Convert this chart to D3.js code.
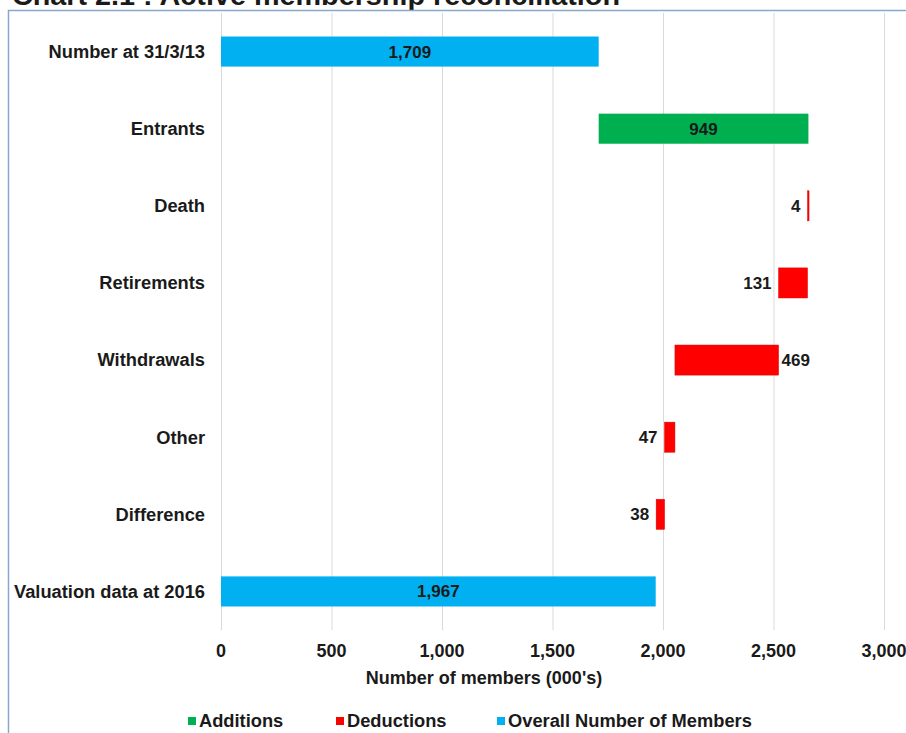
<!DOCTYPE html>
<html>
<head>
<meta charset="utf-8">
<script src="https://cdn.jsdelivr.net/npm/d3@7"></script>
<style>
  body { margin:0; background:#fff; }
  text { font-family: "Liberation Sans", Arial, sans-serif; font-weight:bold; fill:#1a1a1a; }
</style>
</head>
<body>
<div id="chart"></div>
<script>
var categories = ["Number at 31/3/13","Entrants","Death","Retirements","Withdrawals","Other","Difference","Valuation data at 2016"]
var values = [1709, 949, 4, 131, 469, 47, 38, 1967]
var kinds = ["total","add","ded","ded","ded","ded","ded","total"]
var labelSide = ["inside","inside","left","left","right","left","left","inside"]
var xTicks = [0, 500, 1000, 1500, 2000, 2500, 3000]
var legendNames = ["Additions","Deductions","Overall Number of Members"]
var colors = {add:"#00b050", ded:"#ff0000", total:"#00b0f0"}

var w = 906, h = 733
var svg = d3.select('#chart').append('svg')
  .attr('width', w).attr('height', h)

// title, cut off at the top like the source
svg.append('text')
  .attr('x', 12).attr('y', 4.5)
  .attr('textLength', 608).attr('lengthAdjust', 'spacingAndGlyphs')
  .style('font-size', '28px')
  .text('Chart 2.1 : Active membership reconciliation')

// chart frame
svg.append('path')
  .attr('d', 'M8.5,' + h + ' V10.5 H906')
  .attr('fill', 'none').attr('stroke', '#86a8d0').attr('stroke-width', 1.5)

var plotLeft = 221, plotRight = 884, plotTop = 13, plotBottom = 630
var x = d3.scaleLinear().domain([0, 3000]).range([plotLeft, plotRight])
var y = d3.scaleBand().domain(categories).range([plotTop, plotBottom]).paddingInner(0.61).paddingOuter(0.305)

// running totals for waterfall
var run = 0
var bars = categories.map(function(c, i){
  var v = values[i], s, e
  if (kinds[i] == 'total'){ s = 0; e = v; run = v }
  else if (kinds[i] == 'add'){ s = run; e = run + v; run = e }
  else { e = run; s = run - v; run = s }
  return {cat:c, v:v, s:s, e:e, kind:kinds[i], side:labelSide[i]}
})

svg.selectAll('line.grid')
  .data(xTicks)
  .enter().append('line')
  .attr('class','grid')
  .attr('x1', function(d){ return x(d) + 0.5 }).attr('x2', function(d){ return x(d) + 0.5 })
  .attr('y1', plotTop).attr('y2', plotBottom)
  .attr('stroke', '#d9d9d9').attr('stroke-width', 1)

svg.selectAll('rect.bar')
  .data(bars)
  .enter().append('rect')
  .attr('class','bar')
  .attr('x', function(d){ return x(d.s) })
  .attr('width', function(d){ return Math.max(1.5, x(d.e) - x(d.s)) })
  .attr('y', function(d){ return y(d.cat) })
  .attr('height', y.bandwidth())
  .attr('fill', function(d){ return colors[d.kind] })
  .attr('stroke', function(d){ return d.kind == 'ded' ? '#e00000' : 'none' })
  .attr('stroke-width', 0.5)

var fmt = d3.format(',')
svg.selectAll('text.val')
  .data(bars)
  .enter().append('text')
  .attr('class','val')
  .attr('x', function(d){
    if (d.side == 'inside') return (x(d.s) + x(d.e)) / 2
    if (d.side == 'left') return x(d.s) - 7
    return x(d.e) + 3
  })
  .attr('y', function(d){ return y(d.cat) + y.bandwidth()/2 })
  .attr('dy', '0.35em')
  .attr('text-anchor', function(d){
    if (d.side == 'inside') return 'middle'
    if (d.side == 'left') return 'end'
    return 'start'
  })
  .style('font-size', '17px')
  .text(function(d){ return fmt(d.v) })

// category labels
svg.selectAll('text.cat')
  .data(categories)
  .enter().append('text')
  .attr('class','cat')
  .attr('x', 205)
  .attr('y', function(d){ return y(d) + y.bandwidth()/2 })
  .attr('dy', '0.35em')
  .attr('text-anchor', 'end')
  .style('font-size', '18.3px')
  .text(function(d){ return d })

// x tick labels
svg.selectAll('text.tick')
  .data(xTicks)
  .enter().append('text')
  .attr('class','tick')
  .attr('x', function(d){ return x(d) })
  .attr('y', 651)
  .attr('dy', '0.35em')
  .attr('text-anchor', 'middle')
  .style('font-size', '18px')
  .text(function(d){ return fmt(d) })

svg.append('text')
  .attr('x', 484).attr('y', 678).attr('dy', '0.35em')
  .attr('text-anchor', 'middle')
  .style('font-size', '18px')
  .text("Number of members (000's)")

// legend
var legX = [188, 336, 497]
var legKinds = ['add','ded','total']
var leg = svg.selectAll('g.leg')
  .data(legendNames)
  .enter().append('g')
  .attr('class','leg')
  .attr('transform', function(d, i){ return 'translate(' + legX[i] + ',721)' })
leg.append('rect')
  .attr('x', 0).attr('y', -4).attr('width', 8).attr('height', 8)
  .attr('fill', function(d, i){ return colors[legKinds[i]] })
leg.append('text')
  .attr('x', 11).attr('y', 0).attr('dy', '0.35em')
  .style('font-size', '18.3px')
  .text(function(d){ return d })
</script>
</body>
</html>
